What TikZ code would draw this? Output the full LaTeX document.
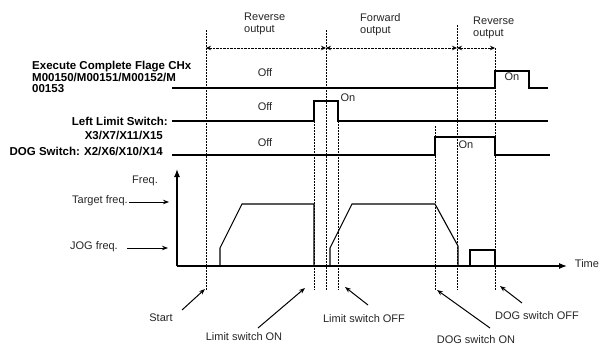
\documentclass[tikz,border=0pt]{standalone}
\usepackage{fontspec}
\setmainfont{Liberation Sans}
\usetikzlibrary{arrows.meta}
\begin{document}
\begin{tikzpicture}[x=1pt,y=-1pt,
  lbl/.style={font=\fontsize{11}{12}\selectfont, inner sep=0pt, text=black!85},
  blbl/.style={font=\fontsize{11.5}{11.5}\selectfont\bfseries, inner sep=0pt},
  sig/.style={line width=1.4pt},
  prof/.style={line width=1.1pt, line join=miter},
  guide/.style={line width=0.9pt, dash pattern=on 2pt off 1pt},
  span/.style={line width=0.9pt, dash pattern=on 2.5pt off 1pt, {Stealth[length=5pt,width=4.5pt]}-{Stealth[length=5pt,width=4.5pt]}},
  ptr/.style={line width=1pt, -{Stealth[length=6pt,width=4.5pt]}},
  hptr/.style={line width=0.9pt, -{Stealth[length=6pt,width=4.5pt]}},
]
\fill[white] (0,0) rectangle (600,348);
\path[use as bounding box] (0,0) rectangle (600,348);

% ---- guide lines (dashed) ----
\draw[guide] (206,30) -- (206,290);
\draw[guide] (314,121) -- (314,290);
\draw[guide] (326,30) -- (326,290);
\draw[guide] (338,121) -- (338,290);
\draw[guide] (435,126) -- (435,290);
\draw[guide] (457,25) -- (457,290);
\draw[guide] (495,48) -- (495,290);

% ---- span arrows at top ----
\coordinate (t1) at (206,48);
\coordinate (t2) at (326,48);
\coordinate (t3) at (457,48);
\coordinate (t4) at (495,48);
\draw[span] (t1) -- (t2);
\draw[span] (t2) -- (t3);
\draw[span] (t3) -- (t4);

\node[lbl, anchor=west, align=left] (rev1) at (244,24) {Reverse\\output};
\node[lbl, anchor=west, align=left] (fwd) at (360,25) {Forward\\output};
\node[lbl, anchor=west, align=left] (rev2) at (473,28) {Reverse\\output};

% ---- signal labels ----
\node[blbl, anchor=north west, align=left] (exec) at (32,61) {Execute Complete Flage CHx\\M00150/M00151/M00152/M\\00153};
\node[blbl, anchor=east] (lim) at (168,121) {Left Limit Switch:};
\node[blbl, anchor=east] (limx) at (163,135) {X3/X7/X11/X15};
\node[blbl, anchor=east] (dog) at (163,151) {DOG Switch: X2/X6/X10/X14};

% ---- signals ----
\draw[sig] (172,88) -- (495,88) -- (495,71) -- (529,71) -- (529,88) -- (548,88);
\draw[sig] (172,121) -- (314,121) -- (314,101) -- (338,101) -- (338,121) -- (548,121);
\draw[sig] (172,155) -- (435,155) -- (435,137) -- (495,137) -- (495,155) -- (550,155);

\node[lbl] (off1) at (265,73) {Off};
\node[lbl] (off2) at (265,107) {Off};
\node[lbl] (off3) at (265,143) {Off};
\node[lbl] (on1) at (512,77) {On};
\node[lbl] (on2) at (348,98) {On};
\node[lbl] (on3) at (466,145) {On};

% ---- axes ----
\coordinate (O) at (177,266);
\coordinate (ytop) at (177,169);
\coordinate (xend) at (567,266);
\draw[line width=1.3pt, -{Latex[length=8pt,width=6pt]}] (O) -- (ytop);
\draw[line width=1.3pt, -{Latex[length=8pt,width=6pt]}] (O) -- (xend);
\node[lbl] (freq) at (145,181) {Freq.};
\node[lbl] (time) at (587,264) {Time};

\node[lbl, anchor=east] (target) at (128,201) {Target freq.};
\node[lbl, anchor=east] (jog) at (118,247) {JOG freq.};
\coordinate (targetTip) at (169,202);
\coordinate (jogTip) at (168,248);
\draw[hptr] (target.east) ++(1,1) coordinate (targetTail) -- (targetTip);
\draw[hptr] (jog.east) ++(9,1) coordinate (jogTail) -- (jogTip);

% ---- frequency profile ----
\draw[prof] (220,266) -- (220,248) -- (242,204) -- (314,204) -- (314,266);
\draw[prof] (330,266) -- (330,248) -- (352,204) -- (435,204) -- (458,246) -- (458,266);
\draw[prof] (470,266) -- (470,250) -- (495,250) -- (495,266);

% ---- event pointers ----
\node[lbl] (start) at (161,318) {Start};
\node[lbl] (limon) at (244,337) {Limit switch ON};
\node[lbl] (limoff) at (364,319) {Limit switch OFF};
\node[lbl] (dogon) at (476,340) {DOG switch ON};
\node[lbl] (dogoff) at (537,316) {DOG switch OFF};

\coordinate (sA) at (182,310); \coordinate (sB) at (205,289);
\coordinate (lA) at (258,328); \coordinate (lB) at (305,288);
\coordinate (fA) at (368,305); \coordinate (fB) at (345,287);
\coordinate (dA) at (490,328); \coordinate (dB) at (437,290);
\coordinate (gA) at (522,303); \coordinate (gB) at (500,286);
\draw[ptr] (sA) -- (sB);
\draw[ptr] (lA) -- (lB);
\draw[ptr] (fA) -- (fB);
\draw[ptr] (dA) -- (dB);
\draw[ptr] (gA) -- (gB);
\end{tikzpicture}
\end{document}
